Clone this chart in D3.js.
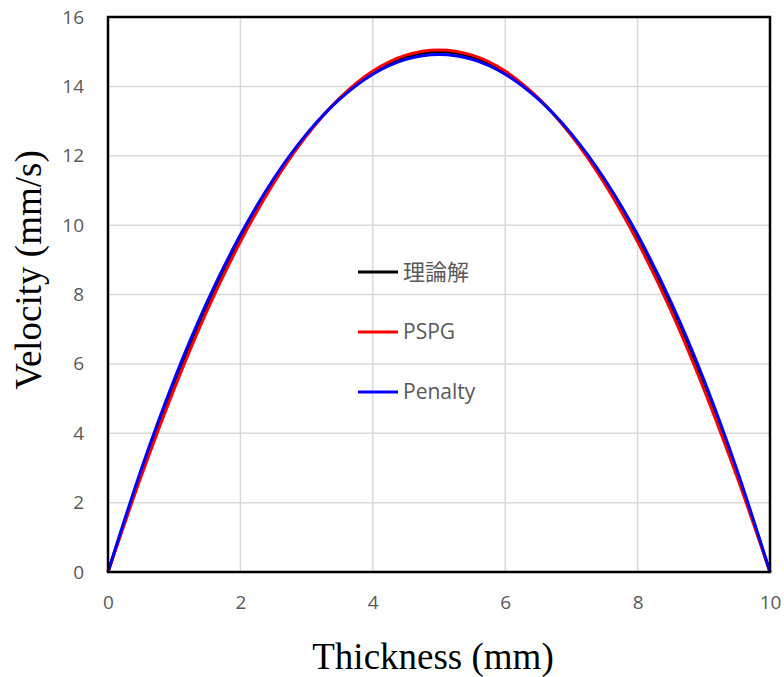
<!DOCTYPE html>
<html><head><meta charset="utf-8">
<script src="https://cdn.jsdelivr.net/npm/d3@7"></script>
<style>body{margin:0;background:#fff}</style>
</head><body>
<svg id="c" width="784" height="677"></svg>
<script>
const xs = [0,0.5,1,1.5,2,2.5,3,3.5,4,4.5,5,5.5,6,6.5,7,7.5,8,8.5,9,9.5,10];
const theory = [0,2.85,5.4,7.65,9.6,11.25,12.6,13.65,14.4,14.85,15,14.85,14.4,13.65,12.6,11.25,9.6,7.65,5.4,2.85,0];
const pspg = [0,2.75,5.28,7.55,9.52,11.2,12.58,13.66,14.44,14.9,15.05,14.9,14.44,13.66,12.58,11.2,9.52,7.55,5.28,2.75,0];
const penalty = [0,2.95,5.55,7.8,9.72,11.33,12.63,13.63,14.35,14.78,14.92,14.78,14.35,13.63,12.63,11.33,9.72,7.8,5.55,2.95,0];
const xTicks = [0,2,4,6,8,10];
const yTicks = [0,2,4,6,8,10,12,14,16];
const seriesNames = ["理論解","PSPG","Penalty"];
const seriesColors = ["#000000","#ff0000","#0000ff"];

const svg = d3.select("#c");
const L=108, R=770, T=17, B=572;
const x = d3.scaleLinear().domain([0,10]).range([L,R]);
const y = d3.scaleLinear().domain([0,16]).range([B,T]);

// gridlines
svg.append("g").selectAll("line.gx").data(xTicks).join("line")
  .attr("x1",d=>x(d)).attr("x2",d=>x(d)).attr("y1",T).attr("y2",B)
  .attr("stroke","#d9d9d9").attr("stroke-width",1.5);
svg.append("g").selectAll("line.gy").data(yTicks).join("line")
  .attr("y1",d=>y(d)).attr("y2",d=>y(d)).attr("x1",L).attr("x2",R)
  .attr("stroke","#d9d9d9").attr("stroke-width",1.5);

// axes tick labels
const xAxis = svg.append("g").attr("transform",`translate(0,${B})`)
  .call(d3.axisBottom(x).tickValues(xTicks).tickSize(0).tickPadding(24).tickFormat(d3.format("d")));
const yAxis = svg.append("g").attr("transform",`translate(${L},0)`)
  .call(d3.axisLeft(y).tickValues(yTicks).tickSize(0).tickPadding(24).tickFormat(d3.format("d")));
[xAxis,yAxis].forEach(a=>{
  a.select(".domain").remove();
  a.selectAll("text").attr("fill","#595959").style("font-family","'Open Sans', 'DejaVu Sans', sans-serif").style("font-size","19px");
});

// series
const data = [theory,pspg,penalty];
const line = d3.line().x((d,i)=>x(xs[i])).y(d=>y(d)).curve(d3.curveMonotoneX);
svg.append("g").selectAll("path").data(data).join("path")
  .attr("d",d=>line(d)).attr("fill","none")
  .attr("stroke",(d,i)=>seriesColors[i]).attr("stroke-width",3);

// frame
svg.append("rect").attr("x",L).attr("y",T).attr("width",R-L).attr("height",B-T)
  .attr("fill","none").attr("stroke","#000").attr("stroke-width",2.5);

// legend
const lg = svg.append("g");
seriesNames.forEach((n,i)=>{
  const yy = 272 + i*60;
  lg.append("line").attr("x1",358).attr("x2",398).attr("y1",yy).attr("y2",yy)
    .attr("stroke",seriesColors[i]).attr("stroke-width",3);
  lg.append("text").attr("x",403).attr("y",yy).attr("dy","0.35em")
    .attr("fill","#595959").style("font-size", i===0 ? "22px" : "21px")
    .style("font-family","'Open Sans','Noto Sans CJK JP', sans-serif").text(n);
});

// axis titles
svg.append("text").attr("x",433).attr("y",669).attr("text-anchor","middle")
  .style("font-family","'Liberation Serif','Times New Roman',serif").style("font-size","37px").text("Thickness (mm)");
svg.append("text").attr("transform","translate(41,270) rotate(-90)").attr("text-anchor","middle")
  .style("font-family","'Liberation Serif','Times New Roman',serif").style("font-size","37px").text("Velocity (mm/s)");
</script>
</body></html>
